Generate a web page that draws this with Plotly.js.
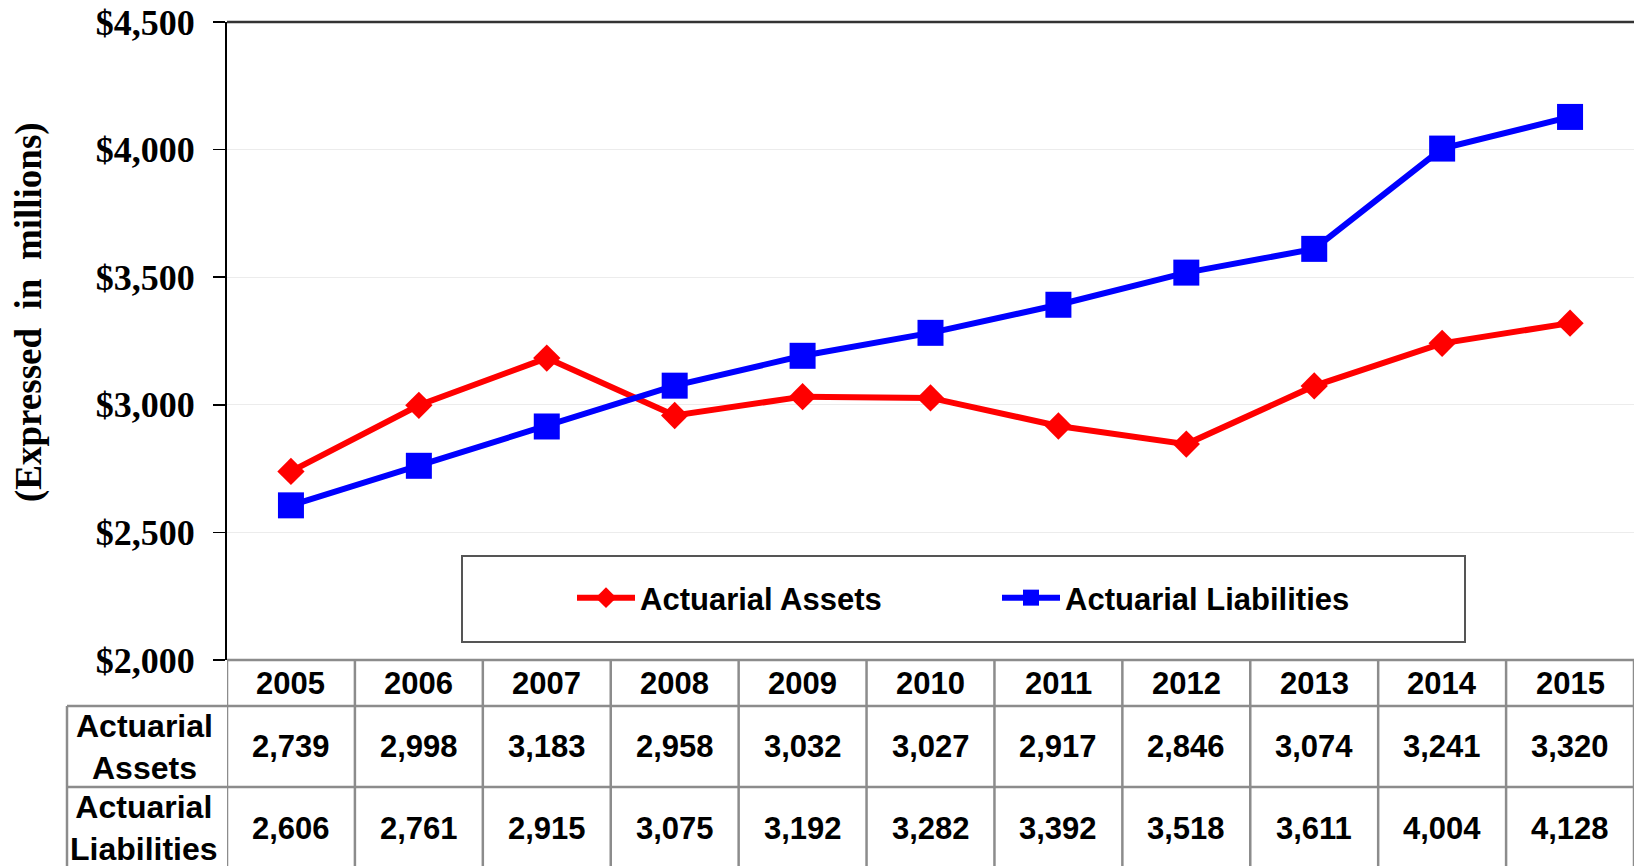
<!DOCTYPE html>
<html>
<head>
<meta charset="utf-8">
<script src="https://cdn.plot.ly/plotly-3.0.1.min.js"></script>
<style>html,body{margin:0;padding:0;background:#fff;}#chart{width:1635px;height:866px;}</style>
</head>
<body>
<div id="chart"></div>
<script>
// ---- data ----
const years = [2005, 2006, 2007, 2008, 2009, 2010, 2011, 2012, 2013, 2014, 2015];
const actuarialAssets = [2739, 2998, 3183, 2958, 3032, 3027, 2917, 2846, 3074, 3241, 3320];
const actuarialLiabilities = [2606, 2761, 2915, 3075, 3192, 3282, 3392, 3518, 3611, 4004, 4128];
const seriesNames = ["Actuarial Assets", "Actuarial Liabilities"];
const rowLabels = ["Actuarial<br>Assets", "Actuarial<br>Liabilities"];
const yTickValues = [2000, 2500, 3000, 3500, 4000, 4500];
const yTickLabels = ["$2,000", "$2,500", "$3,000", "$3,500", "$4,000", "$4,500"];
const yAxisTitle = "(Expressed\u00a0 in\u00a0 millions)";

// ---- layout geometry ----
const W = 1635, H = 866;
const M = {l: 227, r: 1, t: 22, b: 206};
const plotW = W - M.l - M.r, plotH = H - M.t - M.b;
const px2x = p => (p - M.l) / plotW;      // pixel x -> paper x
const py2y = p => (H - M.b - p) / plotH;  // pixel y -> paper y

const SANS = "Arial, 'Liberation Sans', sans-serif";
const SERIF = "'Times New Roman', 'Liberation Serif', serif";
const gridGray = "#8c8c8c";

const traces = [
  {
    x: years, y: actuarialAssets, name: seriesNames[0], type: "scatter", mode: "lines+markers",
    line: {color: "#ff0000", width: 6},
    marker: {symbol: "diamond", size: 21, color: "#ff0000"}
  },
  {
    x: years, y: actuarialLiabilities, name: seriesNames[1], type: "scatter", mode: "lines+markers",
    line: {color: "#0000ff", width: 6},
    marker: {symbol: "square", size: 26, color: "#0000ff"}
  }
];

// table geometry (pixels)
const tblTop = 660, hdrBottom = 706, row1Bottom = 787, tblBottom = 868, labelLeft = 67;
const shapes = [];
const annotations = [];

// legend box
shapes.push({type: "rect", xref: "paper", yref: "paper",
  x0: px2x(462), x1: px2x(1465), y0: py2y(642), y1: py2y(556),
  line: {color: "#555555", width: 2}, fillcolor: "#ffffff", layer: "below"});

// top border line
shapes.push({type: "line", xref: "paper", yref: "paper", x0: 0, x1: 1, y0: 1, y1: 1,
  line: {color: "#333333", width: 2.5}});

// table horizontal lines
[[0, tblTop], [px2x(labelLeft), hdrBottom], [px2x(labelLeft), row1Bottom]].forEach(([x0, py]) => {
  shapes.push({type: "line", xref: "paper", yref: "paper", x0: x0, x1: 1, y0: py2y(py), y1: py2y(py),
    line: {color: gridGray, width: 2.5}});
});
// table vertical lines
years.concat([years[years.length - 1] + 1]).forEach(yr => {
  shapes.push({type: "line", xref: "x", yref: "paper", x0: yr - 0.5, x1: yr - 0.5,
    y0: py2y(tblTop), y1: py2y(tblBottom), line: {color: gridGray, width: 2.5}});
});
shapes.push({type: "line", xref: "paper", yref: "paper", x0: px2x(labelLeft), x1: px2x(labelLeft),
  y0: py2y(hdrBottom), y1: py2y(tblBottom), line: {color: gridGray, width: 2.5}});

const cellFont = {family: SANS, size: 31, color: "#000", weight: "bold"};
years.forEach((yr, i) => {
  annotations.push({xref: "x", yref: "paper", x: yr, y: py2y(683), text: String(yr),
    showarrow: false, font: cellFont, xanchor: "center", yanchor: "middle"});
  annotations.push({xref: "x", yref: "paper", x: yr, y: py2y(747), text: actuarialAssets[i].toLocaleString("en-US"),
    showarrow: false, font: cellFont, xanchor: "center", yanchor: "middle"});
  annotations.push({xref: "x", yref: "paper", x: yr, y: py2y(828), text: actuarialLiabilities[i].toLocaleString("en-US"),
    showarrow: false, font: cellFont, xanchor: "center", yanchor: "middle"});
});
[[rowLabels[0], 747], [rowLabels[1], 828]].forEach(([t, py]) => {
  annotations.push({xref: "paper", yref: "paper", x: px2x((labelLeft + M.l) / 2 - 3), y: py2y(py), text: t,
    showarrow: false, font: {family: SANS, size: 32, color: "#000", weight: "bold"},
    xanchor: "center", yanchor: "middle", align: "center"});
});

// y-axis title
annotations.push({xref: "paper", yref: "paper", x: px2x(29), y: py2y(312), text: yAxisTitle,
  textangle: -90, showarrow: false, xanchor: "center", yanchor: "middle",
  font: {family: SERIF, size: 37, color: "#000", weight: "bold"}});

const layout = {
  width: W, height: H,
  margin: M,
  paper_bgcolor: "#fff", plot_bgcolor: "#fff",
  showlegend: true,
  legend: {
    orientation: "h", x: px2x(572), xanchor: "left", y: py2y(598), yanchor: "middle",
    entrywidth: 352, entrywidthmode: "pixels", itemwidth: 58,
    bgcolor: "rgba(0,0,0,0)", borderwidth: 0,
    font: {family: SANS, size: 31, color: "#000", weight: "bold"}
  },
  xaxis: {
    type: "linear", range: [years[0] - 0.5, years[years.length - 1] + 0.5],
    showgrid: false, zeroline: false, showline: false, showticklabels: false, ticks: "", fixedrange: true
  },
  yaxis: {
    range: [yTickValues[0], yTickValues[yTickValues.length - 1]],
    tickmode: "array", tickvals: yTickValues, ticktext: yTickLabels,
    ticks: "outside", ticklen: 12, tickwidth: 1.5, tickcolor: "#000",
    showline: true, linecolor: "#000", linewidth: 2,
    showgrid: true, gridcolor: "#ececec", gridwidth: 1, zeroline: false,
    ticklabelstandoff: 11,
    tickfont: {family: SERIF, size: 36, color: "#000", weight: "bold"}
  },
  shapes: shapes,
  annotations: annotations
};

Plotly.newPlot("chart", traces, layout, {displayModeBar: false, staticPlot: true});
</script>
</body>
</html>
